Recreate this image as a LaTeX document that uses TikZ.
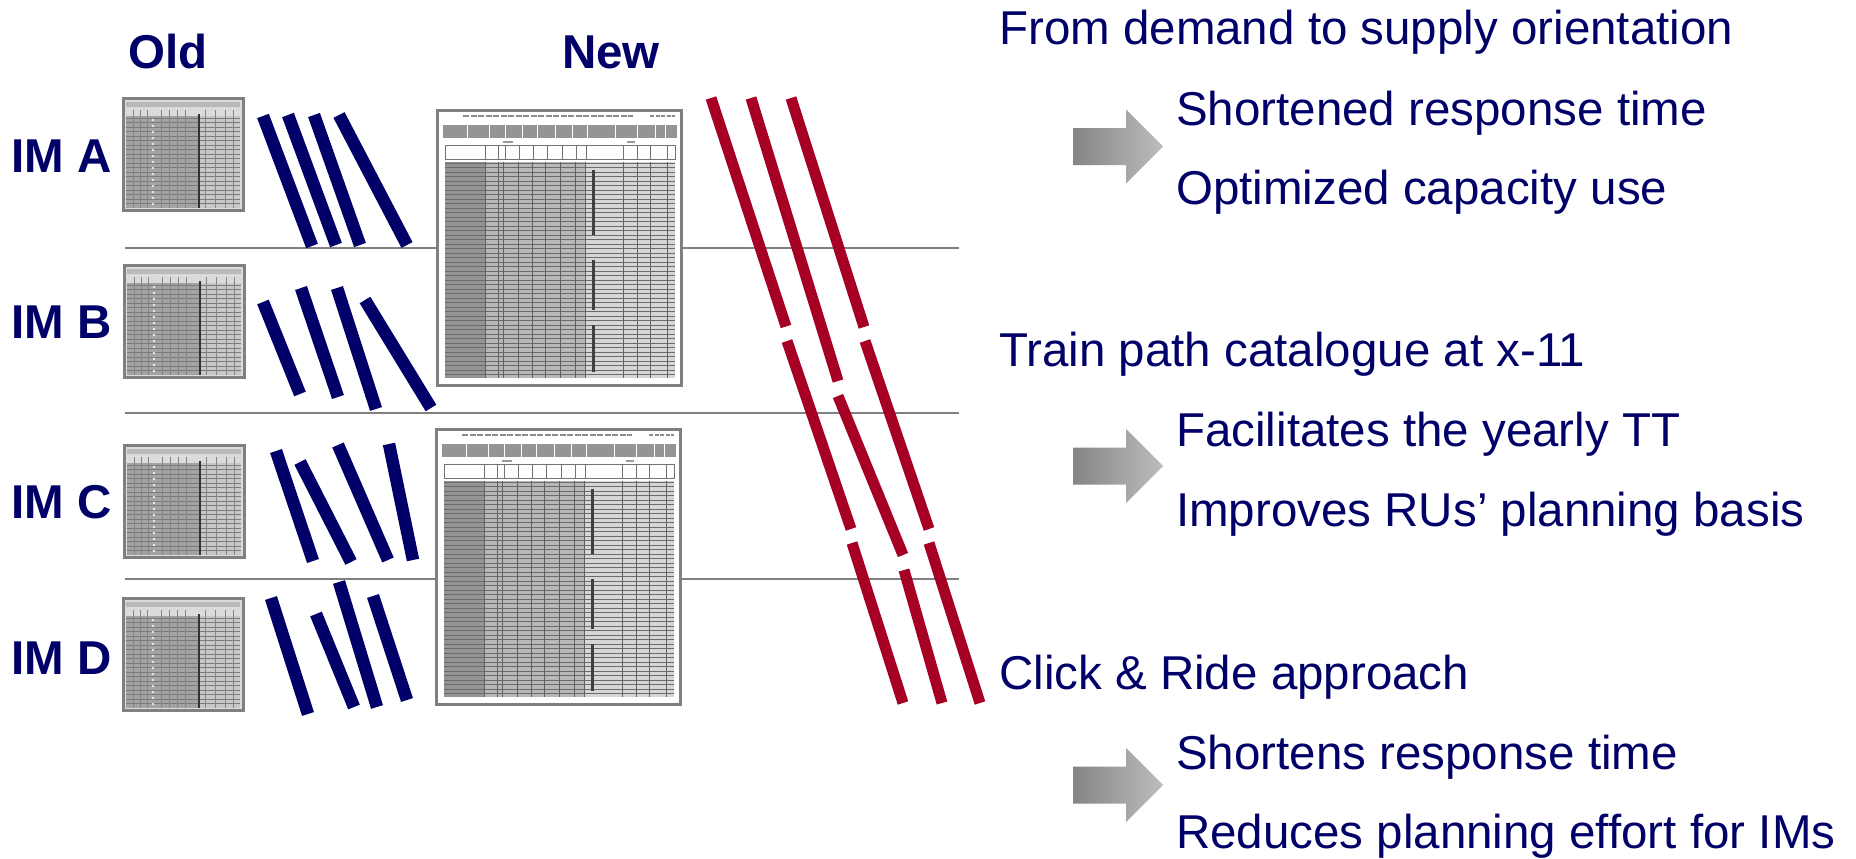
\documentclass[tikz,border=0pt]{standalone}
\usepackage{fontspec}
\setmainfont{Liberation Sans}
\definecolor{navy}{RGB}{0,0,104}
\definecolor{rail}{RGB}{166,0,36}
\definecolor{sepgray}{RGB}{128,128,128}
\tikzset{
  lbl/.style={anchor=base west, inner sep=0pt, text=navy, font=\fontsize{47.5}{57}\selectfont},
  boldlbl/.style={anchor=base west, inner sep=0pt, text=navy, font=\fontsize{47.5}{57}\selectfont\bfseries},
  bluebar/.style={draw=navy, line width=12.5pt},
  redbar/.style={draw=rail, line width=11pt},
  sepline/.style={draw=sepgray, line width=2.6pt},
  greyarrow/.style={left color=black!48, right color=black!26, draw=none},
}
\newcommand{\drawOldTab}[2]{%
\begin{scope}[shift={(#1,#2)}]
 \fill[black!14] (0,0) rectangle (120,112);
 \fill[black!36] (3,18) rectangle (75,110);
 \fill[black!22] (75,18) rectangle (117,110);
 \fill[black!28] (3,4) rectangle (117,9);
 \foreach \yy in {20,24.5,...,108} \draw[black!52,line width=0.6pt] (3,\yy) -- (117,\yy);
 \foreach \xx in {10,17,24,38,46,54,62,82,92,102,110} \draw[black!48,line width=0.7pt] (\xx,12) -- (\xx,110);
 \foreach \yy in {22,28,...,106} \fill[black!8] (30,\yy) circle (1.3);
 \draw[black!80,line width=1.6pt] (76,16) -- (76,110);
 \draw[black!50,line width=3pt] (0,0) rectangle (120,112);
\end{scope}}
\newcommand{\drawNewTab}[2]{%
\begin{scope}[shift={(#1,#2)}]
 \fill[white] (0,0) rectangle (244,275);
 \draw[black!45,line width=2pt,dash pattern=on 6pt off 1.5pt] (26,6) -- (196,6);
 \draw[black!45,line width=2pt,dash pattern=on 4pt off 1.5pt] (213,6) -- (238,6);
 \fill[black!42] (6,15) rectangle (240,28);
 \foreach \xx in {30,52,68,85,100,118,135,150,178,200,218,228} \draw[white,line width=1pt] (\xx,15) -- (\xx,28);
 \draw[black!40,line width=1.5pt] (66,32) -- (76,32);
 \draw[black!40,line width=1.5pt] (190,32) -- (198,32);
 \draw[black!55,line width=0.8pt] (8,35) rectangle (238,49);
 \foreach \xx in {48,61,68,82,96,110,125,139,149,186,200,213,230} \draw[black!55,line width=0.8pt] (\xx,35) -- (\xx,49);
 \fill[black!42] (8,52) rectangle (48,268);
 \fill[black!28] (48,52) rectangle (148,268);
 \fill[black!16] (148,52) rectangle (238,268);
 \foreach \yy in {53,57.5,...,266} \draw[black!58,line width=0.8pt] (8,\yy) -- (238,\yy);
 \foreach \xx in {48,61,66,81,95,108,123,138,148,186,200,213,230} \draw[black!62,line width=0.9pt] (\xx,52) -- (\xx,268);
 \draw[black!75,line width=3pt] (156,60) -- (156,125);
 \draw[black!75,line width=3pt] (156,150) -- (156,200);
 \draw[black!75,line width=3pt] (156,215) -- (156,262);
 \draw[black!50,line width=3pt] (0,0) rectangle (244,275);
\end{scope}}
\newcommand{\drawGreyArrow}[1]{%
 \path[greyarrow] (1073,#1-18.5) -- (1126,#1-18.5) -- (1126,#1-37) -- (1163,#1) -- (1126,#1+37) -- (1126,#1+18.5) -- (1073,#1+18.5) -- cycle;}
\begin{document}
\begin{tikzpicture}[x=1pt,y=-1pt]
\useasboundingbox (0,0) rectangle (1856,859);
\fill[white] (0,0) rectangle (1856,859);
% separator lines
\draw[sepline] (125,248) -- (959,248);
\draw[sepline] (125,413) -- (959,413);
\draw[sepline] (125,579) -- (959,579);
% old thumbnails
\drawOldTab{123}{98}
\drawOldTab{124}{265}
\drawOldTab{124}{445}
\drawOldTab{123}{598}
% new tables
\drawNewTab{437}{110}
\drawNewTab{436}{429}
% blue bars
\draw[bluebar] (263,116) -- (312,246);
\draw[bluebar] (288,115) -- (336,245);
\draw[bluebar] (314,115) -- (360,245);
\draw[bluebar] (339,115) -- (407,245);
\draw[bluebar] (263,302) -- (300,394);
\draw[bluebar] (301,288) -- (338,397);
\draw[bluebar] (337,288) -- (376,409);
\draw[bluebar] (365,300) -- (431,408);
\draw[bluebar] (276,451) -- (313,561);
\draw[bluebar] (300,462) -- (351,562);
\draw[bluebar] (338,445) -- (388,560);
\draw[bluebar] (389,444) -- (413,560);
\draw[bluebar] (271,598) -- (308,714);
\draw[bluebar] (316,614) -- (354,707);
\draw[bluebar] (339,582) -- (377,707);
\draw[bluebar] (373,596) -- (407,700);
% red bars
\draw[redbar] (711,98) -- (786,326.5);
\draw[redbar] (787,341) -- (851,529);
\draw[redbar] (852,543) -- (903,703);
\draw[redbar] (751,98) -- (838,381);
\draw[redbar] (838,396) -- (903,555);
\draw[redbar] (904,570) -- (942,703);
\draw[redbar] (791,98) -- (864,327);
\draw[redbar] (865,341) -- (929,529);
\draw[redbar] (929,543) -- (980,703);
% grey arrows
\drawGreyArrow{146.5}
\drawGreyArrow{466}
\drawGreyArrow{785}
% labels
\node[boldlbl] (old) at (128,69) {Old};
\node[boldlbl] (new) at (562,69) {New};
\node[boldlbl] (ima) at (11,172) {IM A};
\node[boldlbl] (imb) at (11,338) {IM B};
\node[boldlbl] (imc) at (11,518) {IM C};
\node[boldlbl] (imd) at (11,674) {IM D};
\node[lbl] (t1) at (999,45) {From demand to supply orientation};
\node[lbl] (t1a) at (1176,125) {Shortened response time};
\node[lbl] (t1b) at (1176,204) {Optimized capacity use};
\node[lbl] (t2) at (999,366) {Train path catalogue at x-11};
\node[lbl] (t2a) at (1176,446) {Facilitates the yearly TT};
\node[lbl] (t2b) at (1176,526) {Improves RUs’ planning basis};
\node[lbl] (t3) at (999,689) {Click \& Ride approach};
\node[lbl] (t3a) at (1176,769) {Shortens response time};
\node[lbl] (t3b) at (1176,848) {Reduces planning effort for IMs};
\end{tikzpicture}
\end{document}
